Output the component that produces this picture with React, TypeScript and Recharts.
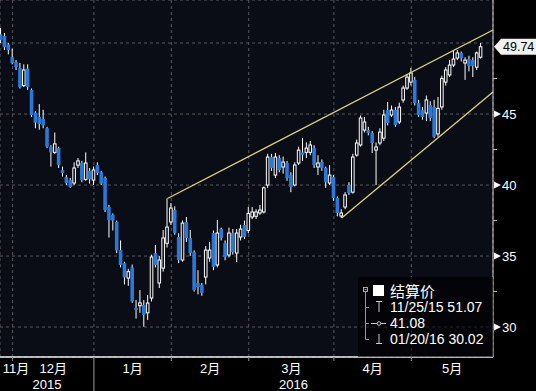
import React from 'react';
import { ComposedChart, Bar, XAxis, YAxis, CartesianGrid, ReferenceLine } from 'recharts';

// ---- data (trading-day index 0 = 11/25/15) ----
const opens = [
  50.6, 50.5, 49.9, 49.0, 48.65, 48.24, 47.0, 48.2, 46.7, 45.1,
  44.8, 44.65, 44.0, 42.7, 42.3, 42.6, 41.06, 40.56, 40.35, 40.14,
  41.4, 41.55, 40.4, 41.0, 40.35, 41.4, 40.9, 40.5, 38.45, 37.9,
  37.4, 35.42, 34.5, 33.45, 34.2, 31.35, 31.5, 31.55, 31.0, 32.04,
  35.21, 33.1, 34.15, 35.9, 37.4, 38.24, 36.34, 34.72, 37.4, 36.27,
  35.28, 33.1, 32.96, 33.52, 34.86, 36.62, 34.37, 36.9, 35.9, 35.07,
  36.62, 35.21, 36.34, 37.18, 36.8, 37.75, 37.8, 38.03, 38.1, 40.0,
  41.97, 40.7, 41.9, 41.27, 41.55, 40.7, 40.0, 41.55, 42.3, 42.3,
  42.3, 42.6, 41.27, 41.62, 41.2, 40.14, 40.56, 39.08, 37.82, 38.45,
  40.0, 39.5, 42.11, 42.82, 43.87, 43.87, 43.66, 42.46, 42.96, 43.3,
  45.28, 44.93, 45.28, 44.44, 45.99, 46.83, 47.25, 47.4, 45.77, 45.28,
  45.07, 45.63, 45.5, 43.6, 45.5, 47.25, 47.75, 48.45, 48.94, 49.3,
  48.59, 48.87, 48.8, 48.3, 49.0,
];
const highs = [
  51.07, 50.7, 50.0, 49.6, 48.8, 48.6, 48.5, 48.5, 46.8, 45.2,
  45.7, 45.3, 44.1, 42.8, 43.7, 42.7, 41.3, 40.7, 40.5, 41.6,
  41.9, 41.7, 42.3, 41.2, 41.3, 41.6, 41.0, 40.6, 38.6, 38.0,
  37.5, 36.1, 34.6, 34.1, 34.4, 31.9, 32.6, 31.9, 32.25, 35.1,
  35.77, 35.0, 36.83, 39.05, 38.73, 38.5, 36.6, 37.5, 37.75, 36.83,
  35.4, 34.0, 33.1, 35.7, 35.99, 36.8, 37.54, 37.0, 36.1, 37.0,
  36.9, 36.9, 37.2, 37.5, 38.45, 38.45, 38.3, 38.6, 39.9, 42.2,
  42.2, 42.25, 42.1, 42.0, 41.7, 40.9, 41.6, 42.7, 43.3, 43.0,
  43.1, 42.8, 42.1, 41.8, 41.3, 41.4, 40.7, 39.2, 38.3, 39.5,
  40.2, 42.2, 43.2, 44.9, 44.8, 44.1, 43.8, 43.0, 44.0, 45.3,
  45.85, 45.6, 45.5, 45.8, 47.0, 47.8, 48.24, 47.6, 46.0, 45.5,
  46.3, 45.9, 46.0, 46.2, 47.7, 48.3, 48.8, 49.5, 49.5, 49.4,
  49.0, 49.1, 49.0, 49.4, 50.0,
];
const lows = [
  50.0, 49.5, 49.2, 48.5, 48.1, 46.8, 46.9, 46.7, 44.8, 44.0,
  43.9, 44.0, 42.6, 41.3, 42.2, 41.2, 40.6, 40.0, 39.8, 40.0,
  41.2, 40.2, 40.3, 40.1, 40.0, 40.7, 40.0, 38.1, 36.3, 36.8,
  35.2, 34.2, 33.0, 32.9, 31.7, 30.6, 31.0, 30.02, 30.5, 31.8,
  34.2, 32.75, 33.9, 35.6, 37.2, 36.5, 34.5, 34.6, 36.0, 35.0,
  32.5, 32.3, 32.2, 33.0, 34.6, 34.0, 34.2, 36.1, 34.7, 34.9,
  35.1, 34.58, 36.1, 36.2, 36.6, 37.6, 37.6, 37.9, 38.0, 39.8,
  41.0, 40.5, 40.9, 40.8, 40.3, 39.5, 39.9, 41.4, 41.7, 41.9,
  42.1, 41.2, 40.7, 41.0, 39.8, 40.0, 38.9, 37.8, 37.68, 38.3,
  39.3, 39.4, 42.0, 42.7, 43.7, 43.5, 42.25, 40.0, 42.8, 43.1,
  44.2, 44.8, 44.1, 44.3, 45.8, 46.7, 47.0, 45.6, 44.8, 44.6,
  44.5, 44.5, 43.3, 43.4, 45.3, 47.0, 47.6, 48.3, 48.8, 48.7,
  47.4, 48.0, 47.6, 48.1, 48.9,
];
const closes = [
  50.2, 49.7, 49.5, 48.6, 48.3, 46.9, 48.1, 46.9, 44.93, 44.4,
  44.3, 44.2, 42.7, 42.3, 42.9, 41.4, 40.85, 40.14, 39.86, 41.2,
  41.7, 40.35, 41.55, 40.4, 41.06, 40.85, 40.1, 38.24, 37.54, 37.5,
  35.4, 34.37, 33.5, 33.9, 31.8, 31.2, 31.7, 30.85, 31.69, 34.93,
  34.37, 34.72, 36.27, 37.04, 38.38, 36.62, 34.72, 37.32, 36.27, 35.21,
  32.61, 32.82, 32.4, 35.42, 35.42, 34.23, 36.62, 36.27, 34.93, 36.62,
  35.28, 36.62, 36.9, 36.34, 38.0, 38.1, 38.1, 38.24, 39.8, 41.97,
  41.2, 41.97, 41.06, 41.62, 40.49, 39.86, 41.41, 42.46, 42.1, 42.6,
  42.82, 41.4, 41.55, 41.2, 40.2, 40.7, 39.08, 38.03, 38.03, 39.3,
  39.44, 41.97, 42.96, 44.72, 44.44, 43.66, 42.96, 42.68, 43.73, 44.93,
  44.37, 45.28, 44.23, 45.49, 46.83, 47.6, 47.89, 45.77, 44.93, 44.79,
  45.99, 44.72, 43.4, 45.4, 47.5, 48.1, 48.45, 48.87, 49.3, 48.94,
  48.8, 48.38, 48.38, 49.3, 49.74,
];

// index of the first trading day of Dec, Jan, Feb, Mar, Apr, May
const monthStarts = [3, 24, 44, 64, 86, 106];
const monthLabels = ['11月', '12月', '1月', '2月', '3月', '4月', '5月'];
const yearStart = 24;
const yearLabels = ['2015', '2016'];
const majorTicks = [30, 35, 40, 45, 50];
const minorTicks = [32.5, 37.5, 42.5, 47.5];
const lastPrice = 49.74;
const trendUpper = [{ i: 43, v: 39.05 }, { i: 127.1, v: 50.92 }];
const trendLower = [{ i: 88, v: 37.68 }, { i: 127.1, v: 46.55 }];
const legendTitle = '结算价';
const legendRows = ['11/25/15 51.07', '41.08', '01/20/16 30.02'];

// ---- layout ----
const X_DOMAIN: [number, number] = [-0.26, 127.1];
const Y_DOMAIN: [number, number] = [27.89, 53.03];
const PLOT_BG = '#0a0c16';
const DOWN = '#2a78d8';
const FONT = '"Liberation Sans", "Noto Sans CJK SC", sans-serif';

const data = opens.map((open, i) => ({ i, open, high: highs[i], low: lows[i], close: closes[i] }));

const bounds = [X_DOMAIN[0], ...monthStarts, X_DOMAIN[1]];
const monthMids = bounds.slice(0, -1).map((b, k) => (b + bounds[k + 1]) / 2);
const yearMids = [(X_DOMAIN[0] + yearStart) / 2, (yearStart + X_DOMAIN[1]) / 2];
const xTicks = [...monthStarts, ...monthMids, ...yearMids].sort((a, b) => a - b);

const Candle = (props: any) => {
  const { x, y, width, height, payload } = props;
  if (!payload || x == null || y == null) return null;
  const cx = x + width / 2;
  const { open, close, high, low } = payload;
  const span = high - low || 1;
  const py = (v: number) => y + ((high - v) / span) * height;
  const yo = py(open);
  const yc = py(close);
  const top = Math.min(yo, yc);
  const h = Math.max(Math.abs(yo - yc), 1);
  const up = close >= open;
  return (
    <g>
      <line x1={cx} x2={cx} y1={y} y2={y + height} stroke="#ffffff" strokeWidth={1} />
      {up ? (
        <rect x={cx - 1.3} y={top} width={2.6} height={h} fill={PLOT_BG} stroke="#ffffff" strokeWidth={1} />
      ) : (
        <rect x={cx - 1.8} y={top} width={3.6} height={h} fill={DOWN} />
      )}
    </g>
  );
};

const BottomTick = (p: any) => {
  const v = p.payload.value;
  const { x, y } = p;
  if (v === yearStart) {
    return <line x1={x} x2={x} y1={y} y2={y + 34} stroke="#9a9a9a" strokeWidth={1} />;
  }
  if (monthStarts.includes(v)) {
    return <line x1={x} x2={x} y1={y} y2={y + 4} stroke="#8a8a8a" strokeWidth={1} />;
  }
  const mk = monthMids.indexOf(v);
  if (mk >= 0) {
    return (
      <text x={Math.max(x, 16)} y={y + 16} textAnchor="middle" fill="#ffffff" fontSize={13} fontFamily={FONT}>
        {monthLabels[mk]}
      </text>
    );
  }
  const yk = yearMids.indexOf(v);
  return (
    <text x={x} y={y + 32} textAnchor="middle" fill="#ffffff" fontSize={13} fontFamily={FONT}>
      {yearLabels[yk]}
    </text>
  );
};

const RightTick = (p: any) => {
  const { x, y, payload } = p;
  const v = payload.value;
  if (v === lastPrice) {
    return (
      <g>
        <polygon
          points={`${x + 1},${y} ${x + 8},${y - 8} ${x + 44},${y - 8} ${x + 44},${y + 8} ${x + 8},${y + 8}`}
          fill="#f0f0f0"
        />
        <text x={x + 10} y={y + 4.5} fill="#000000" fontSize={12.5} fontFamily={FONT}>
          {v.toFixed(2)}
        </text>
      </g>
    );
  }
  if (majorTicks.includes(v)) {
    return (
      <g>
        <polygon points={`${x + 1},${y - 3.5} ${x + 8},${y} ${x + 1},${y + 3.5}`} fill="#ffffff" />
        <text x={x + 9} y={y + 5} fill="#ffffff" fontSize={13} fontFamily={FONT}>
          {v}
        </text>
      </g>
    );
  }
  return <line x1={x} x2={x + 4} y1={y} y2={y} stroke="#bbbbbb" strokeWidth={1} />;
};

const axisTicks = [...majorTicks.filter((v) => v < 50), ...minorTicks, lastPrice].sort((a, b) => a - b);

const Legend = () => (
  <svg
    width={536}
    height={391}
    style={{ position: 'absolute', left: 0, top: 0, pointerEvents: 'none' }}
    fontFamily={FONT}
  >
    <rect x={358} y={277} width={135} height={80} fill="#000000" fillOpacity={0.6} />
    <rect x={363.5} y={287.5} width={4} height={4} fill="none" stroke="#aaaaaa" strokeWidth={1} />
    <line x1={364.5} x2={366.5} y1={289.5} y2={289.5} stroke="#aaaaaa" strokeWidth={1} />
    <rect x={373} y={285} width={11} height={11} fill="#ffffff" />
    <text x={390} y={297} fill="#ffffff" fontSize={15}>
      {legendTitle}
    </text>
    <line x1={365.5} x2={365.5} y1={292} y2={339.5} stroke="#999999" strokeWidth={1} />
    {legendRows.map((t, k) => {
      const base = 312 + k * 16;
      const mid = base - 5;
      return (
        <g key={k}>
          <line x1={365.5} x2={369} y1={mid + 0.5} y2={mid + 0.5} stroke="#999999" strokeWidth={1} />
          {k === 0 && (
            <g stroke="#cccccc" strokeWidth={1}>
              <line x1={376} x2={382} y1={base - 10.5} y2={base - 10.5} />
              <line x1={379} x2={379} y1={base - 10.5} y2={base} />
            </g>
          )}
          {k === 1 && (
            <g stroke="#cccccc" strokeWidth={1}>
              <line x1={371} x2={386} y1={mid + 0.5} y2={mid + 0.5} />
              <circle cx={379} cy={mid + 0.5} r={1.8} fill="#000000" />
            </g>
          )}
          {k === 2 && (
            <g stroke="#cccccc" strokeWidth={1}>
              <line x1={379} x2={379} y1={base - 10} y2={base - 0.5} />
              <line x1={376} x2={382} y1={base - 0.5} y2={base - 0.5} />
            </g>
          )}
          <text x={390} y={base} fill="#ffffff" fontSize={14}>
            {t}
          </text>
        </g>
      );
    })}
  </svg>
);

export default function App() {
  return (
    <div style={{ position: 'relative', width: 536, height: 391, background: '#000000' }}>
      <style>{'body{margin:0;background:#000000;}'}</style>
      <ComposedChart
        width={536}
        height={391}
        data={data}
        margin={{ top: 0, right: 0, bottom: 0, left: 0 }}
        style={{ background: '#000000', fontFamily: FONT }}
      >
        <CartesianGrid
          xAxisId="g"
          yAxisId="g"
          stroke="#5a5a5a"
          strokeDasharray="3 3"
          fill={PLOT_BG}
          fillOpacity={1}
        />
        <XAxis
          xAxisId="m"
          dataKey="i"
          type="number"
          domain={X_DOMAIN}
          allowDataOverflow
          ticks={xTicks}
          interval={0}
          height={34}
          tickSize={0}
          tickMargin={0}
          tickLine={false}
          axisLine={{ stroke: '#eeeeee', strokeWidth: 1.5 }}
          tick={(p: any) => <BottomTick {...p} />}
        />
        <XAxis
          xAxisId="g"
          dataKey="i"
          type="number"
          domain={X_DOMAIN}
          allowDataOverflow
          ticks={monthStarts}
          height={0}
          hide
        />
        <YAxis
          yAxisId="p"
          orientation="right"
          type="number"
          domain={Y_DOMAIN}
          allowDataOverflow
          width={43}
          ticks={axisTicks}
          interval={0}
          tickSize={0}
          tickMargin={0}
          tickLine={false}
          axisLine={{ stroke: '#cfcfcf' }}
          tick={(p: any) => <RightTick {...p} />}
        />
        <YAxis
          yAxisId="g"
          orientation="right"
          type="number"
          domain={Y_DOMAIN}
          allowDataOverflow
          ticks={majorTicks}
          width={0}
          hide
        />
        <Bar
          xAxisId="m"
          yAxisId="p"
          dataKey={(d: any) => [d.low, d.high]}
          barSize={3}
          shape={(p: any) => <Candle {...p} />}
          isAnimationActive={false}
        />
        <ReferenceLine
          xAxisId="m"
          yAxisId="p"
          segment={trendUpper.map((pt) => ({ x: pt.i, y: pt.v }))}
          stroke="#e0d47a"
          strokeWidth={1.3}
          ifOverflow="visible"
        />
        <ReferenceLine
          xAxisId="m"
          yAxisId="p"
          segment={trendLower.map((pt) => ({ x: pt.i, y: pt.v }))}
          stroke="#e0d47a"
          strokeWidth={1.3}
          ifOverflow="visible"
        />
      </ComposedChart>
      <Legend />
    </div>
  );
}
